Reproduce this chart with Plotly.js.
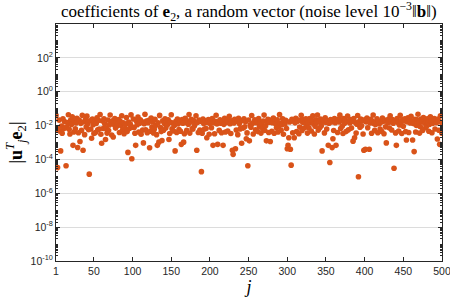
<!DOCTYPE html>
<html>
<head>
<meta charset="utf-8">
<script src="https://cdn.plot.ly/plotly-3.0.1.min.js"></script>
<style>html,body{margin:0;padding:0;background:#fff}#chart{width:450px;height:297px}</style>
</head>
<body>
<div id="chart"></div>
<script>
// |u_j^T e_2| for j = 1..500 (20 per row)
const coeffs = [
0.040, 0.0072, 3.3e-5, 0.0055, 0.021, 0.0048, 3.2e-4, 0.0094, 0.0035, 0.025, 0.0068, 0.017, 0.0075, 4.2e-5, 0.0083, 0.0152, 0.044, 0.0061, 0.0032, 0.021,
0.0115, 0.033, 6.8e-4, 0.0042, 0.0185, 0.0064, 0.0142, 0.027, 5.1e-4, 0.0038, 0.021, 1.15e-3, 0.0135, 0.0052, 0.041, 3.5e-4, 0.0162, 0.0029, 0.0228, 0.0081,
0.036, 0.0128, 0.0058, 1.35e-5, 0.019, 0.0063, 1.8e-3, 0.0245, 0.0112, 0.0034, 0.0168, 0.0039, 0.0135, 0.0285, 0.0056, 0.0205, 0.0062, 0.045, 0.0031, 9.0e-4,
0.0188, 0.0067, 0.0255, 0.0126, 1.5e-3, 0.0068, 0.0036, 0.0215, 0.0051, 0.0107, 0.042, 0.0138, 0.0028, 0.0192, 2.1e-3, 0.0115, 0.0264, 0.0071, 0.0158, 0.0096,
0.0134, 0.0228, 0.0039, 0.0176, 0.0102, 0.0378, 0.0055, 0.0145, 0.0033, 0.0066, 0.0118, 0.0295, 0.0044, 2.6e-4, 0.0163, 0.0067, 0.0125, 0.043, 1.1e-4, 0.0079,
0.0243, 0.0078, 0.0035, 6.8e-4, 0.0186, 0.0113, 0.0315, 0.0042, 0.0139, 0.0221, 0.0031, 0.0171, 0.0054, 9.5e-4, 0.0128, 0.0462, 0.0057, 0.0183, 0.0038, 0.0147,
0.0208, 4.9e-4, 0.0046, 0.0275, 0.0083, 0.0165, 0.0037, 0.0061, 0.0233, 0.0104, 0.0029, 6.8e-4, 0.0145, 1.05e-3, 0.0398, 0.0076, 0.0044, 1.3e-3, 0.0192, 0.0053,
0.0136, 0.0252, 0.0071, 0.0167, 0.0111, 0.0218, 1.5e-3, 0.0034, 0.0155, 0.0432, 0.0064, 0.0142, 0.0048, 0.0101, 3.2e-4, 0.0178, 0.0039, 0.0241, 0.0126, 0.0058,
0.0172, 0.0046, 7.8e-4, 0.0225, 0.0137, 1.05e-3, 0.0033, 0.0268, 0.0152, 0.0052, 0.0188, 0.0119, 0.0449, 0.0036, 0.0161, 0.0234, 0.0066, 0.0063, 0.0201, 0.0097,
0.0129, 0.0382, 3.5e-4, 0.0158, 0.0039, 0.0213, 0.0054, 0.0175, 1.9e-5, 0.0035, 0.0246, 0.0132, 0.0062, 0.0189, 0.0067, 1.9e-3, 0.0153, 0.0226, 0.0031, 0.0139,
0.0195, 0.0075, 0.0258, 6.8e-4, 0.0148, 0.0033, 0.0181, 0.0407, 0.0125, 7.8e-4, 0.0166, 0.0052, 0.0221, 0.0137, 0.0038, 0.0176, 6.8e-4, 0.0118, 0.0265, 0.0042,
0.0154, 0.0204, 0.0048, 0.0171, 0.0356, 0.0128, 0.0034, 0.0192, 3.5e-4, 2.0e-4, 0.0143, 0.0236, 4.3e-4, 0.0055, 0.0183, 0.0029, 0.0272, 0.0134, 0.0063, 0.0071,
9.0e-4, 0.0197, 0.0071, 0.0249, 0.0085, 0.0168, 1.65e-3, 0.0037, 4.2e-5, 0.0215, 1.25e-3, 0.0107, 0.0079, 0.0392, 0.0131, 0.0032, 0.0159, 0.0223, 0.0056, 0.0146,
0.0178, 0.0044, 0.0264, 0.0088, 0.0152, 0.0036, 0.0124, 0.0069, 0.0187, 0.0415, 0.0051, 0.0097, 1.25e-3, 0.0171, 0.0238, 0.0039, 0.0158, 1.15e-3, 0.0209, 0.0046,
0.0149, 0.0276, 0.0035, 0.0193, 0.0127, 0.0074, 0.0219, 0.0042, 0.0093, 0.0441, 0.0138, 0.0053, 0.0111, 0.0252, 0.0031, 0.0169, 0.0123, 0.0207, 0.0067, 4.3e-4,
6.8e-4, 1.9e-3, 0.0165, 4.0e-4, 4.6e-5, 0.0232, 0.0038, 0.0186, 1.9e-3, 0.0145, 0.0271, 0.0044, 0.0177, 0.0214, 0.0033, 0.0083, 0.0196, 0.0403, 0.0052, 0.0157,
0.0226, 0.0071, 0.0174, 0.0249, 0.0117, 0.0036, 0.0141, 0.0073, 0.0263, 0.0152, 0.0048, 0.0198, 0.0384, 0.0129, 0.0032, 0.0091, 0.0218, 0.0146, 0.0425, 0.0054,
0.0183, 0.0075, 0.0242, 0.0099, 3.2e-4, 0.0171, 0.0208, 0.0037, 0.0289, 0.0154, 0.0063, 0.0192, 6.8e-4, 0.0139, 6.6e-5, 0.0224, 0.0163, 5.0e-4, 1.65e-3, 0.0051,
0.0256, 0.0148, 6.8e-4, 0.0187, 0.0039, 0.0233, 0.0161, 0.0412, 0.0067, 0.0199, 0.0092, 0.0034, 0.0264, 0.0135, 0.0215, 0.0044, 0.0168, 0.0371, 0.0056, 0.0194,
0.0142, 0.0228, 0.0071, 0.0181, 1.2e-3, 0.0257, 1.9e-3, 0.0153, 0.0036, 0.0119, 0.0396, 9.5e-6, 0.0172, 0.0079, 0.0241, 0.0097, 0.0188, 0.0032, 3.5e-4, 0.0219,
4.0e-4, 0.0164, 0.0275, 0.0075, 0.0195, 4.0e-4, 0.0141, 0.0238, 0.0035, 0.0178, 0.0422, 0.0132, 0.0052, 0.0115, 0.0169, 0.0253, 0.0038, 0.0186, 0.0128, 0.0063,
0.0157, 0.0046, 0.0281, 0.0174, 0.0033, 0.0212, 0.0084, 9.5e-4, 0.0193, 0.0149, 0.0246, 0.0071, 0.0379, 0.0163, 0.0055, 0.0228, 0.0139, 3.0e-5, 0.0182, 0.0037,
6.8e-4, 0.0264, 0.0151, 0.0048, 0.0108, 0.0409, 0.0171, 0.0034, 0.0222, 0.0091, 0.0185, 0.0247, 0.0044, 1.4e-3, 0.0166, 0.0283, 0.0039, 0.0205, 0.0144, 0.0354,
0.0179, 1.4e-3, 0.0131, 2.9e-4, 0.0236, 0.0042, 0.0102, 0.0217, 0.0471, 0.0147, 0.0036, 0.0086, 0.0244, 0.0163, 0.0051, 0.0298, 0.0175, 0.0138, 0.0075, 0.0095,
0.0252, 0.0154, 0.0046, 0.0118, 0.0327, 0.0171, 0.0038, 0.0135, 0.0187, 0.0262, 0.0063, 0.0213, 0.0148, 1.6e-3, 0.0239, 0.0053, 7.8e-4, 0.0384, 0.0157, 0.0035
];
const jIndex = coeffs.map((_, i) => i + 1);

const xTickVals = [1, 50, 100, 150, 200, 250, 300, 350, 400, 450, 500];
const xTickText = ['1', '50', '100', '150', '200', '250', '300', '350', '400', '450', '500'];
const yTickVals = [1e-10, 1e-8, 1e-6, 1e-4, 1e-2, 1e0, 1e2];
const yTickText = ['10<sup>-10</sup>', '10<sup>-8</sup>', '10<sup>-6</sup>', '10<sup>-4</sup>', '10<sup>-2</sup>', '10<sup>0</sup>', '10<sup>2</sup>'];

const minorVals = [];
for (let e = -10; e < 4; e++) for (let m = 2; m <= 9; m++) minorVals.push(m * Math.pow(10, e));
for (let e = -9; e < 4; e += 2) minorVals.push(Math.pow(10, e));

const trace = {
  x: jIndex, y: coeffs, type: 'scatter', mode: 'markers',
  marker: {color: '#D95319', size: 5.6, line: {width: 0}},
  hoverinfo: 'skip'
};

const layout = {
  width: 450, height: 297,
  margin: {l: 56, r: 8, t: 24, b: 36},
  paper_bgcolor: '#ffffff', plot_bgcolor: '#ffffff',
  showlegend: false,
  title: {
    text: 'coefficients of <b>e</b><sub>2</sub>, a random vector (noise level 10<sup>\u22123</sup>\u2016<b>b</b>\u2016)',
    font: {family: 'Liberation Serif, DejaVu Serif, serif', size: 17, color: '#000'},
    x: 0.553, xanchor: 'center', y: 0.962, yanchor: 'middle'
  },
  xaxis: {
    range: [0.999, 500.01], tickmode: 'array', tickvals: xTickVals, ticktext: xTickText,
    ticks: 'inside', ticklen: 4, tickcolor: '#262626', ticklabeloverflow: 'allow',
    showline: true, linecolor: '#262626', linewidth: 1, mirror: 'ticks',
    showgrid: false, zeroline: false,
    tickfont: {family: 'Liberation Sans, Arial, sans-serif', size: 10.5, color: '#262626'},
    title: {text: '<i>j</i>', font: {family: 'Liberation Serif, serif', size: 18, color: '#000'}, standoff: 1}
  },
  yaxis: {
    type: 'log', range: [-10, 4], tickmode: 'array', tickvals: yTickVals, ticktext: yTickText,
    ticks: 'inside', ticklen: 4, tickcolor: '#262626',
    showline: true, linecolor: '#262626', linewidth: 1, mirror: 'ticks',
    showgrid: true, gridcolor: '#dcdcdc', gridwidth: 1, zeroline: false,
    tickfont: {family: 'Liberation Sans, Arial, sans-serif', size: 10.5, color: '#262626'},
    minor: {tickmode: 'array', tickvals: minorVals, ticks: 'inside', ticklen: 2, tickcolor: '#262626', showgrid: false},
    title: {text: '|<b>u</b><sup><i>T</i></sup><sub><i>j</i></sub><b>e</b><sub>2</sub>|', font: {family: 'Liberation Serif, serif', size: 18, color: '#000'}, standoff: 3}
  }
};

Plotly.newPlot('chart', [trace], layout, {staticPlot: true, displayModeBar: false});
</script>
</body>
</html>
